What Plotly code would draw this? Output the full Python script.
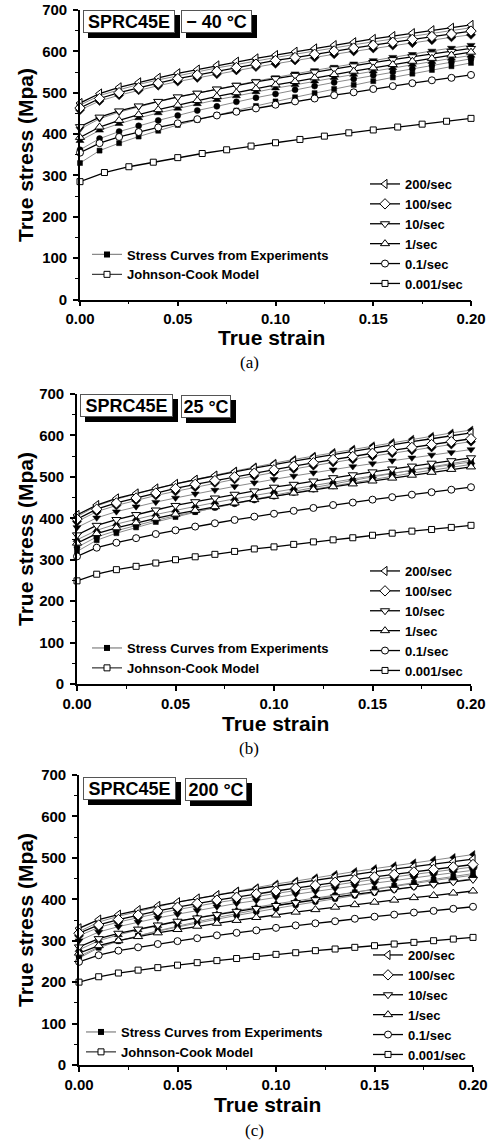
import plotly.graph_objects as go

W, H = 495, 1142

# ---------------- data ----------------
strain = [0.00, 0.01, 0.02, 0.03, 0.04, 0.05, 0.06, 0.07, 0.08, 0.09, 0.10,
          0.11, 0.12, 0.13, 0.14, 0.15, 0.16, 0.17, 0.18, 0.19, 0.20]
strain_coarse = [0.0, 0.0125, 0.025, 0.0375, 0.05, 0.0625, 0.075, 0.0875, 0.1,
                 0.1125, 0.125, 0.1375, 0.15, 0.1625, 0.175, 0.1875, 0.2]

rates = ["200/sec", "100/sec", "10/sec", "1/sec", "0.1/sec", "0.001/sec"]
temps = ["− 40 °C", "25 °C", "200 °C"]
captions = ["(a)", "(b)", "(c)"]
x_ticks = [0.00, 0.05, 0.10, 0.15, 0.20]
y_ticks = [0, 100, 200, 300, 400, 500, 600, 700]

# Panel (a) -40 C : Johnson-Cook model
a_jc_200 = [475, 498, 513, 525, 536, 547, 556, 566, 575, 583, 591, 599, 607, 615, 622, 630, 637, 644, 651, 657, 664]
a_jc_100 = [463, 486, 500, 512, 523, 534, 543, 552, 561, 569, 578, 585, 593, 601, 608, 615, 622, 629, 636, 642, 649]
a_jc_10 = [418, 441, 456, 468, 479, 490, 499, 509, 518, 526, 534, 542, 550, 558, 565, 573, 580, 587, 594, 600, 607]
a_jc_1 = [392, 417, 433, 447, 459, 470, 481, 491, 500, 510, 519, 527, 536, 544, 552, 560, 568, 576, 583, 591, 598]
a_jc_01 = [355, 378, 393, 405, 416, 426, 436, 445, 454, 462, 471, 479, 486, 494, 501, 509, 516, 523, 530, 536, 543]
a_jc_0001 = [285, 307, 321, 332, 343, 353, 362, 371, 379, 387, 395, 403, 410, 417, 424, 431, 438]
# Panel (a) : experiments
a_ex_200 = [470, 493, 507, 520, 531, 541, 550, 560, 568, 577, 585, 593, 601, 608, 616, 623, 630, 637, 644, 650, 657]
a_ex_100 = [458, 480, 494, 506, 517, 527, 536, 545, 554, 562, 570, 578, 585, 593, 600, 607, 614, 620, 627, 634, 640]
a_ex_10 = [412, 437, 453, 466, 478, 489, 499, 509, 519, 528, 537, 546, 554, 562, 570, 578, 586, 593, 601, 608, 615]
a_ex_1 = [384, 409, 425, 439, 451, 462, 473, 483, 492, 502, 511, 519, 528, 536, 544, 552, 560, 568, 575, 583, 590]
a_ex_01 = [362, 389, 406, 420, 433, 445, 457, 467, 478, 488, 497, 507, 516, 525, 533, 542, 550, 558, 566, 574, 582]
a_ex_0001 = [330, 360, 378, 394, 408, 422, 434, 446, 457, 468, 479, 489, 499, 509, 519, 528, 537, 546, 555, 564, 572]

# Panel (b) 25 C : Johnson-Cook model
b_jc_200 = [408, 432, 448, 460, 472, 483, 493, 503, 512, 521, 530, 538, 546, 554, 562, 570, 577, 585, 592, 599, 606]
b_jc_100 = [398, 422, 437, 449, 461, 472, 482, 491, 500, 509, 517, 526, 534, 542, 549, 557, 564, 571, 578, 585, 592]
b_jc_10 = [360, 383, 397, 409, 420, 431, 440, 449, 458, 466, 475, 482, 490, 498, 505, 512, 519, 526, 533, 539, 546]
b_jc_1 = [340, 363, 377, 389, 400, 410, 419, 428, 437, 445, 453, 461, 469, 476, 483, 490, 497, 504, 511, 518, 524]
b_jc_01 = [308, 329, 341, 352, 362, 371, 380, 388, 396, 404, 411, 418, 425, 432, 438, 445, 451, 457, 463, 469, 475]
b_jc_0001 = [249, 265, 276, 284, 292, 300, 307, 313, 320, 326, 331, 337, 343, 348, 353, 359, 364, 369, 373, 378, 383]
# Panel (b) : experiments
b_ex_200 = [404, 430, 446, 459, 472, 483, 494, 504, 514, 524, 533, 542, 550, 559, 567, 575, 583, 591, 598, 606, 613]
b_ex_100 = [392, 416, 431, 443, 455, 465, 475, 485, 494, 502, 511, 519, 527, 535, 542, 550, 557, 564, 571, 578, 585]
b_ex_10 = [378, 401, 416, 428, 439, 449, 459, 468, 477, 486, 494, 502, 510, 517, 525, 532, 539, 546, 553, 559, 566]
b_ex_1 = [348, 371, 386, 398, 409, 419, 429, 438, 447, 455, 464, 472, 480, 487, 495, 502, 509, 516, 523, 529, 536]
b_ex_01 = [330, 355, 370, 383, 395, 406, 416, 426, 435, 444, 453, 462, 470, 478, 486, 494, 501, 509, 516, 523, 530]
b_ex_0001 = [320, 347, 364, 378, 391, 403, 415, 426, 436, 446, 455, 465, 474, 483, 491, 500, 508, 516, 524, 532, 540]

# Panel (c) 200 C : Johnson-Cook model
c_jc_200 = [330, 351, 363, 374, 384, 393, 402, 410, 418, 425, 433, 440, 447, 454, 460, 467, 473, 479, 485, 491, 497]
c_jc_100 = [318, 338, 351, 362, 372, 381, 390, 398, 405, 413, 420, 427, 434, 441, 447, 454, 460, 466, 472, 478, 484]
c_jc_10 = [285, 305, 318, 328, 338, 347, 355, 363, 371, 378, 385, 392, 399, 406, 412, 418, 424, 431, 436, 442, 448]
c_jc_1 = [270, 288, 300, 310, 319, 327, 335, 342, 349, 356, 362, 369, 375, 381, 387, 393, 398, 404, 409, 415, 420]
c_jc_01 = [249, 265, 276, 284, 292, 299, 306, 313, 319, 325, 331, 337, 342, 347, 353, 358, 363, 368, 372, 377, 382]
c_jc_0001 = [200, 213, 222, 229, 235, 241, 247, 252, 257, 262, 267, 271, 276, 280, 284, 288, 292, 296, 300, 304, 308]
# Panel (c) : experiments
c_ex_200 = [322, 345, 359, 371, 382, 393, 402, 411, 420, 428, 437, 444, 452, 460, 467, 474, 481, 488, 495, 501, 508]
c_ex_100 = [312, 332, 345, 356, 366, 375, 384, 392, 399, 407, 414, 421, 428, 435, 441, 448, 454, 460, 466, 472, 478]
c_ex_10 = [300, 321, 334, 345, 355, 364, 373, 382, 390, 397, 405, 412, 419, 426, 432, 439, 445, 452, 458, 464, 470]
c_ex_1 = [278, 300, 314, 326, 336, 346, 356, 364, 373, 381, 389, 396, 404, 411, 418, 425, 432, 439, 445, 452, 458]
c_ex_01 = [262, 285, 300, 312, 323, 333, 343, 352, 361, 370, 378, 386, 394, 401, 409, 416, 423, 430, 437, 443, 450]
c_ex_0001 = [258, 283, 299, 312, 324, 335, 346, 356, 365, 375, 384, 392, 401, 409, 417, 425, 433, 440, 448, 455, 462]

panels = [
    dict(jc=[a_jc_200, a_jc_100, a_jc_10, a_jc_1, a_jc_01, a_jc_0001],
         ex=[a_ex_200, a_ex_100, a_ex_10, a_ex_1, a_ex_01, a_ex_0001],
         jcx=[strain, strain, strain, strain, strain, strain_coarse]),
    dict(jc=[b_jc_200, b_jc_100, b_jc_10, b_jc_1, b_jc_01, b_jc_0001],
         ex=[b_ex_200, b_ex_100, b_ex_10, b_ex_1, b_ex_01, b_ex_0001],
         jcx=[strain] * 6),
    dict(jc=[c_jc_200, c_jc_100, c_jc_10, c_jc_1, c_jc_01, c_jc_0001],
         ex=[c_ex_200, c_ex_100, c_ex_10, c_ex_1, c_ex_01, c_ex_0001],
         jcx=[strain] * 6),
]

# ---------------- style / layout geometry ----------------
SANS = "Liberation Sans, Arial, sans-serif"
SERIF = "Liberation Serif, Times New Roman, serif"
symbols = ["triangle-left", "diamond", "triangle-down", "triangle-up", "circle", "square"]
msize = [8, 8, 8, 8, 7, 6]


def px(x):
    return x / W


def py(y):
    return 1 - y / H


# pixel geometry of each panel
geo = [
    dict(x0=80, x1=471, ytop=10, ybot=299.5, ytitle=155, xt=(271, 337), cap=(249, 363),
         box1=(83, 10, 92), box2=(181, 10, 71), leg_rate=(365, 169), leg_src=(87, 239.5)),
    dict(x0=77, x1=471, ytop=394, ybot=684, ytitle=539, xt=(275, 723), cap=(249, 748),
         box1=(80, 394, 93), box2=(181, 395, 50), leg_rate=(365, 556), leg_src=(87, 633)),
    dict(x0=79, x1=473, ytop=775, ybot=1065, ytitle=920, xt=(267, 1104), cap=(254, 1130),
         box1=(83, 777, 93), box2=(185, 778, 62), leg_rate=(368, 940), leg_src=(81, 1017)),
]
BOX_H = 23
SHADOW = 5

fig = go.Figure()
layout = dict(width=W, height=H, margin=dict(l=0, r=0, t=0, b=0, autoexpand=False),
              paper_bgcolor="white", plot_bgcolor="white", showlegend=True)
annotations = []
shapes = []

tickfont = dict(family=SANS, size=15, color="black", weight="bold")
legfont = dict(family=SANS, size=13, color="black", weight="bold")

for i, (p, g) in enumerate(zip(panels, geo)):
    n = i + 1
    xa = "x" if n == 1 else f"x{n}"
    ya = "y" if n == 1 else f"y{n}"
    leg_src = "legend" if n == 1 else f"legend{2 * n - 1}"
    leg_rate = f"legend{2 * n}"

    # experiment curves (gray lines, filled markers)
    for k in range(6):
        fig.add_trace(go.Scatter(
            x=strain, y=p["ex"][k], xaxis=xa, yaxis=ya, mode="lines+markers",
            line=dict(color="#8a8a8a", width=1),
            marker=dict(symbol=symbols[k], size=msize[k] - 1, color="black",
                        line=dict(color="black", width=0.5)),
            cliponaxis=False, showlegend=False, hoverinfo="skip"))
    # Johnson-Cook model curves (black lines, open markers)
    for k in range(6):
        fig.add_trace(go.Scatter(
            x=p["jcx"][k], y=p["jc"][k], xaxis=xa, yaxis=ya, mode="lines+markers",
            name=rates[k], legend=leg_rate,
            line=dict(color="black", width=1.3),
            marker=dict(symbol=symbols[k], size=msize[k], color="white",
                        line=dict(color="black", width=1)),
            cliponaxis=False, showlegend=True))
    # source legend entries
    fig.add_trace(go.Scatter(
        x=[None], y=[None], xaxis=xa, yaxis=ya, mode="lines+markers",
        name="Stress Curves from Experiments", legend=leg_src,
        line=dict(color="#8a8a8a", width=1.3),
        marker=dict(symbol="square", size=6, color="black"), showlegend=True))
    fig.add_trace(go.Scatter(
        x=[None], y=[None], xaxis=xa, yaxis=ya, mode="lines+markers",
        name="Johnson-Cook Model", legend=leg_src,
        line=dict(color="#404040", width=1.3),
        marker=dict(symbol="square", size=6, color="white", line=dict(color="black", width=1)),
        showlegend=True))

    xkey = "xaxis" if n == 1 else f"xaxis{n}"
    ykey = "yaxis" if n == 1 else f"yaxis{n}"
    layout[xkey] = dict(
        domain=[px(g["x0"]), px(g["x1"])], anchor=ya, range=[0, 0.2],
        tickvals=x_ticks, ticktext=[f"{v:.2f}" for v in x_ticks],
        showline=True, linecolor="black", linewidth=1.6, ticks="outside",
        ticklen=5, tickwidth=1.5, tickcolor="black", showgrid=False, zeroline=False,
        tickfont=tickfont,
        minor=dict(dtick=0.025, tick0=0, ticks="outside", ticklen=3, tickwidth=1.2,
                   tickcolor="black", showgrid=False))
    layout[ykey] = dict(
        domain=[py(g["ybot"]), py(g["ytop"])], anchor=xa, range=[0, 700],
        tickvals=y_ticks, showline=True, linecolor="black", linewidth=1.6,
        ticks="outside", ticklen=5, tickwidth=1.5, tickcolor="black",
        ticklabelstandoff=3,
        showgrid=False, zeroline=False, tickfont=tickfont,
        minor=dict(dtick=50, tick0=0, ticks="outside", ticklen=3, tickwidth=1.2,
                   tickcolor="black", showgrid=False))

    layout[leg_src] = dict(x=px(g["leg_src"][0]), y=py(g["leg_src"][1]), xanchor="left",
                           yanchor="top", bgcolor="rgba(0,0,0,0)", borderwidth=0,
                           font=legfont, itemwidth=30, tracegroupgap=0)
    layout[leg_rate] = dict(x=px(g["leg_rate"][0]), y=py(g["leg_rate"][1]),
                            xanchor="left", yanchor="top",
                            bgcolor="rgba(0,0,0,0)", borderwidth=0,
                            font=legfont, itemwidth=30, tracegroupgap=0)

    # titles
    annotations.append(dict(text="True stress (Mpa)", x=px(25), y=py(g["ytitle"]),
                            xref="paper", yref="paper", textangle=-90, showarrow=False,
                            xanchor="center", yanchor="middle",
                            font=dict(family=SANS, size=21, color="black", weight="bold")))
    annotations.append(dict(text="True strain", x=px(g["xt"][0]), y=py(g["xt"][1]),
                            xref="paper", yref="paper", showarrow=False,
                            xanchor="center", yanchor="middle",
                            font=dict(family=SANS, size=21, color="black", weight="bold")))
    annotations.append(dict(text=captions[i], x=px(g["cap"][0]), y=py(g["cap"][1]),
                            xref="paper", yref="paper", showarrow=False,
                            xanchor="center", yanchor="middle",
                            font=dict(family=SERIF, size=17, color="black")))
    # label boxes with drop shadow
    for txt, (bx, by, bw) in (("SPRC45E", g["box1"]), (temps[i], g["box2"])):
        shapes.append(dict(type="rect", xref="paper", yref="paper",
                           x0=px(bx + SHADOW), x1=px(bx + bw + SHADOW),
                           y0=py(by + BOX_H + SHADOW), y1=py(by + SHADOW),
                           fillcolor="black", line=dict(width=0), layer="above"))
        annotations.append(dict(
            text=txt, x=px(bx), y=py(by), xref="paper", yref="paper",
            showarrow=False, xanchor="left", yanchor="top",
            width=bw - 6, height=BOX_H - 6, align="center", valign="middle",
            borderpad=2, borderwidth=1, bordercolor="#555555", bgcolor="white",
            font=dict(family=SANS, size=18, color="black", weight="bold")))

layout["annotations"] = annotations
layout["shapes"] = shapes
fig.update_layout(**layout)
fig.write_html("out.html")
